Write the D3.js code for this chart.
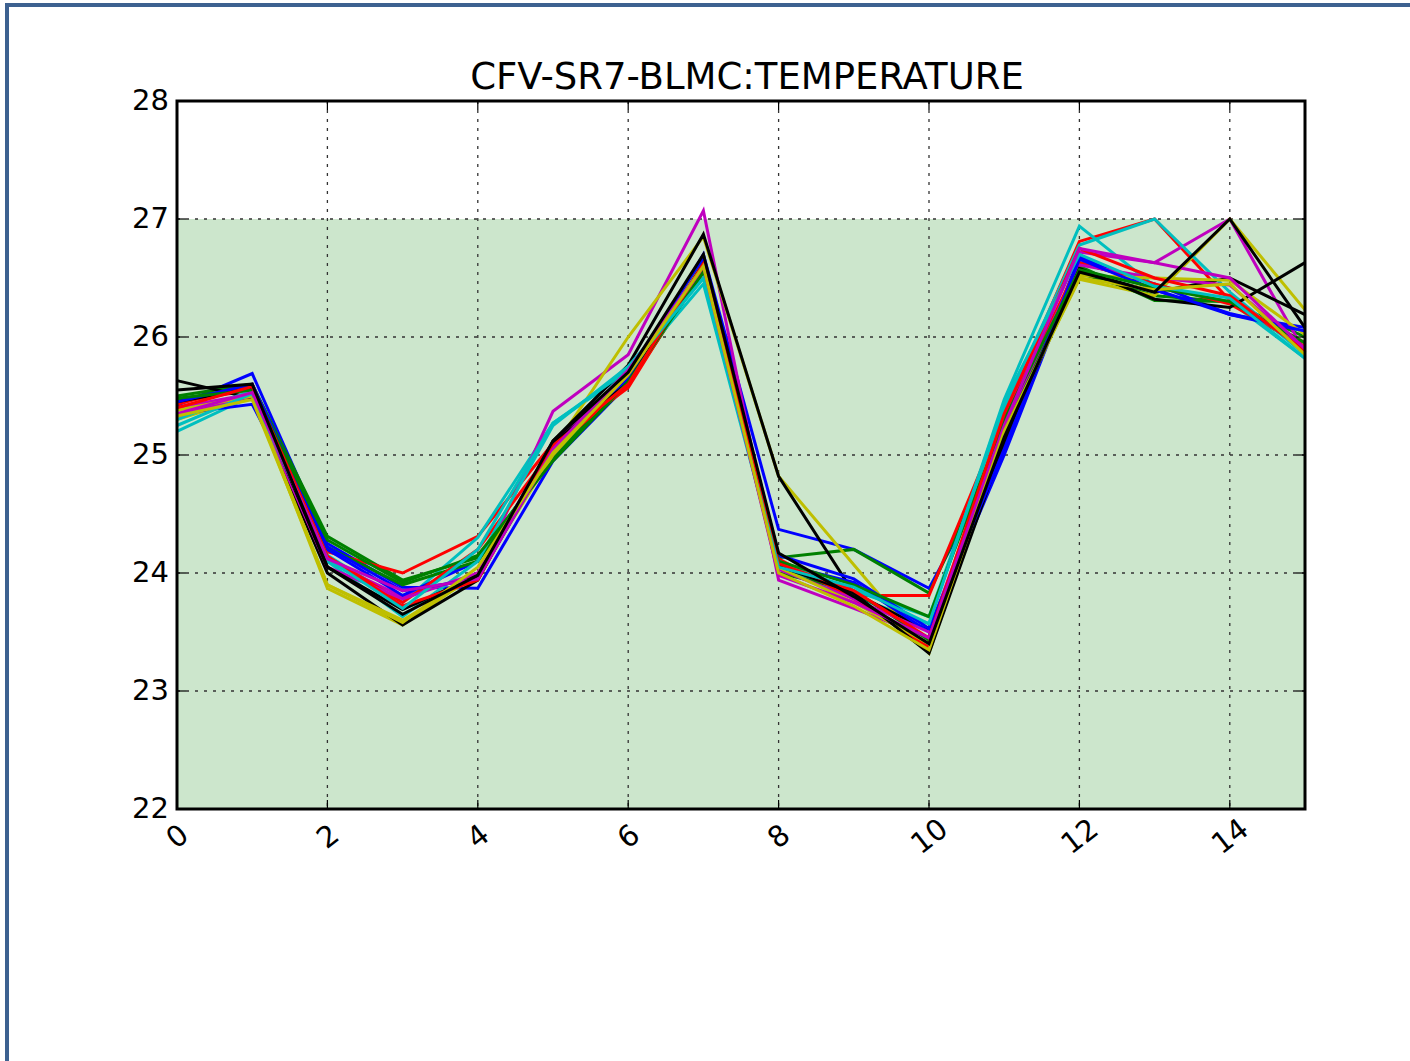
<!DOCTYPE html>
<meta charset="utf-8">
<script src="https://d3js.org/d3.v7.min.js"></script>
<style>
  body { margin: 0; background: #fff; }
  text { font-family: "DejaVu Sans", sans-serif; }
</style>
<body>
<div id="my_dataviz"></div>
<script>
// x positions (sample index) and tick labels
var steps = d3.range(0, 16);
var xTicks = [0, 2, 4, 6, 8, 10, 12, 14];
var yTicks = [22, 23, 24, 25, 26, 27, 28];
var bandLow = 22, bandHigh = 27;

// matplotlib classic colour cycle b g r c m y k
var colors = ["#0000ff", "#008000", "#ff0000", "#00bfbf", "#bf00bf", "#bfbf00", "#000000"];

// one array per run
var s0  = [25.42, 25.69, 24.25, 23.88, 23.87, 24.95, 25.60, 26.70, 24.37, 24.20, 23.87, 25.05, 26.68, 26.40, 26.19, 26.08];
var s1  = [25.50, 25.60, 24.31, 23.94, 24.13, 24.98, 25.60, 26.55, 24.13, 24.20, 23.83, 25.20, 26.54, 26.35, 26.30, 26.00];
var s2  = [25.45, 25.55, 24.18, 24.00, 24.31, 25.10, 25.57, 26.60, 24.10, 23.81, 23.81, 25.35, 26.81, 27.00, 26.31, 25.95];
var s3  = [25.20, 25.50, 24.15, 23.75, 24.30, 25.27, 25.70, 26.45, 24.05, 23.80, 23.57, 25.47, 26.94, 26.43, 26.30, 25.82];
var s4  = [25.40, 25.52, 24.10, 23.80, 23.98, 25.37, 25.85, 27.07, 23.94, 23.70, 23.45, 25.30, 26.72, 26.63, 27.00, 25.87];
var s5  = [25.30, 25.50, 23.87, 23.56, 24.00, 25.05, 26.00, 26.85, 24.82, 24.07, 23.32, 25.20, 26.49, 26.35, 27.00, 26.23];
var s6  = [25.63, 25.48, 24.00, 23.56, 23.94, 25.12, 25.76, 26.87, 24.82, 23.83, 23.51, 25.15, 26.56, 26.38, 26.50, 26.19];
var s7  = [25.35, 25.43, 24.20, 23.81, 24.10, 25.00, 25.65, 26.65, 24.08, 23.92, 23.50, 25.00, 26.63, 26.45, 26.19, 26.05];
var s8  = [25.47, 25.58, 24.22, 23.90, 24.10, 25.00, 25.62, 26.60, 24.00, 23.85, 23.43, 25.20, 26.60, 26.31, 26.30, 25.90];
var s9  = [25.43, 25.60, 24.14, 23.75, 24.20, 25.05, 25.60, 26.58, 24.12, 23.78, 23.37, 25.30, 26.63, 26.45, 26.28, 25.92];
var s10 = [25.30, 25.55, 24.10, 23.63, 24.10, 25.25, 25.75, 26.50, 24.10, 23.85, 23.63, 25.40, 26.78, 27.00, 26.38, 25.85];
var s11 = [25.33, 25.50, 24.05, 23.78, 24.00, 25.10, 25.70, 26.55, 24.03, 23.78, 23.50, 25.25, 26.61, 26.50, 26.44, 25.90];
var s12 = [25.38, 25.50, 23.90, 23.60, 23.98, 25.00, 25.70, 26.62, 24.05, 23.75, 23.40, 25.15, 26.52, 26.50, 26.48, 26.02];
var s13 = [25.45, 25.57, 24.05, 23.69, 23.98, 25.10, 25.61, 26.62, 24.06, 23.83, 23.32, 25.10, 26.58, 26.32, 26.25, 26.63];
var s14 = [25.45, 25.60, 24.22, 23.85, 23.95, 25.05, 25.68, 26.68, 24.15, 23.95, 23.53, 25.05, 26.66, 26.40, 26.20, 26.05];
var s15 = [25.48, 25.55, 24.28, 23.92, 24.15, 24.95, 25.62, 26.55, 24.10, 23.90, 23.63, 25.30, 26.57, 26.42, 26.30, 25.95];
var s16 = [25.40, 25.58, 24.14, 23.72, 23.94, 25.08, 25.60, 26.62, 24.08, 23.85, 23.45, 25.35, 26.75, 26.50, 26.35, 25.88];
var s17 = [25.25, 25.52, 24.12, 23.70, 24.20, 25.27, 25.72, 26.50, 24.05, 23.88, 23.57, 25.45, 26.70, 26.43, 26.33, 25.82];
var s18 = [25.35, 25.53, 24.12, 23.85, 23.95, 25.05, 25.72, 26.60, 23.98, 23.75, 23.45, 25.25, 26.75, 26.63, 26.50, 25.90];
var s19 = [25.33, 25.47, 23.90, 23.58, 24.05, 25.02, 25.68, 26.60, 24.00, 23.72, 23.35, 25.20, 26.50, 26.40, 26.45, 25.85];
var s20 = [25.55, 25.60, 24.05, 23.65, 23.98, 25.12, 25.70, 26.70, 24.17, 23.80, 23.40, 25.15, 26.55, 26.38, 27.00, 26.08];
var runs = [s0, s1, s2, s3, s4, s5, s6, s7, s8, s9, s10, s11, s12, s13, s14, s15, s16, s17, s18, s19, s20];

(function() {
  var W = 1410, H = 1061;
  var margin = {top: 101, left: 177},
      width = 1305 - 177,
      height = 809 - 101;

  var root = d3.select("#my_dataviz").append("svg")
      .attr("width", W)
      .attr("height", H);

  // page frame (blue edge, runs off the window)
  root.append("rect")
      .attr("x", 7).attr("y", 5)
      .attr("width", W + 20).attr("height", H + 20)
      .attr("fill", "none")
      .attr("stroke", "#3d6190")
      .attr("stroke-width", 4);

  var svg = root.append("g")
      .attr("transform", "translate(" + margin.left + "," + margin.top + ")");

  var x = d3.scaleLinear().domain([0, 15]).range([0, width]);
  var y = d3.scaleLinear().domain([22, 28]).range([height, 0]);

  // acceptable band
  svg.append("rect")
      .attr("x", 0)
      .attr("y", y(bandHigh))
      .attr("width", width)
      .attr("height", y(bandLow) - y(bandHigh))
      .attr("fill", "#cce6cc");

  // grid
  svg.append("g").selectAll("line").data(xTicks).enter().append("line")
      .attr("x1", function(d) { return x(d); })
      .attr("x2", function(d) { return x(d); })
      .attr("y1", 0).attr("y2", height)
      .attr("stroke", "#333").attr("stroke-width", 1.3)
      .attr("stroke-dasharray", "3,6");
  svg.append("g").selectAll("line").data(yTicks).enter().append("line")
      .attr("y1", function(d) { return y(d); })
      .attr("y2", function(d) { return y(d); })
      .attr("x1", 0).attr("x2", width)
      .attr("stroke", "#333").attr("stroke-width", 1.3)
      .attr("stroke-dasharray", "3,6");

  // runs
  var line = d3.line()
      .x(function(d, i) { return x(steps[i]); })
      .y(function(d) { return y(d); });

  svg.append("g").selectAll("path").data(runs).enter().append("path")
      .attr("fill", "none")
      .attr("stroke", function(d, i) { return colors[i % colors.length]; })
      .attr("stroke-width", 3)
      .attr("stroke-linejoin", "miter")
      .attr("d", line);

  // ticks inside the frame
  var tickG = svg.append("g").attr("stroke", "#000").attr("stroke-width", 1.2);
  xTicks.forEach(function(t) {
    tickG.append("line").attr("x1", x(t)).attr("x2", x(t)).attr("y1", height).attr("y2", height - 9);
    tickG.append("line").attr("x1", x(t)).attr("x2", x(t)).attr("y1", 0).attr("y2", 9);
  });
  yTicks.forEach(function(t) {
    tickG.append("line").attr("y1", y(t)).attr("y2", y(t)).attr("x1", 0).attr("x2", 9);
    tickG.append("line").attr("y1", y(t)).attr("y2", y(t)).attr("x1", width).attr("x2", width - 9);
  });

  // frame
  svg.append("rect")
      .attr("width", width).attr("height", height)
      .attr("fill", "none")
      .attr("stroke", "#000")
      .attr("stroke-width", 3);

  // y labels
  svg.append("g").selectAll("text").data(yTicks).enter().append("text")
      .attr("x", -8)
      .attr("y", function(d) { return y(d); })
      .attr("dy", "0.32em")
      .attr("text-anchor", "end")
      .style("font-size", "29px")
      .text(function(d) { return d; });

  // x labels, rotated
  svg.append("g").selectAll("text").data(xTicks).enter().append("text")
      .attr("transform", function(d) { return "translate(" + x(d) + "," + (height + 27) + ") rotate(-38)"; })
      .attr("dy", "0.35em")
      .attr("text-anchor", "middle")
      .style("font-size", "29px")
      .text(function(d) { return d; });

  // title
  svg.append("text")
      .attr("x", width / 2 + 6)
      .attr("y", -12)
      .attr("text-anchor", "middle")
      .style("font-size", "37px")
      .text("CFV-SR7-BLMC:TEMPERATURE");
})();
</script>
</body>
